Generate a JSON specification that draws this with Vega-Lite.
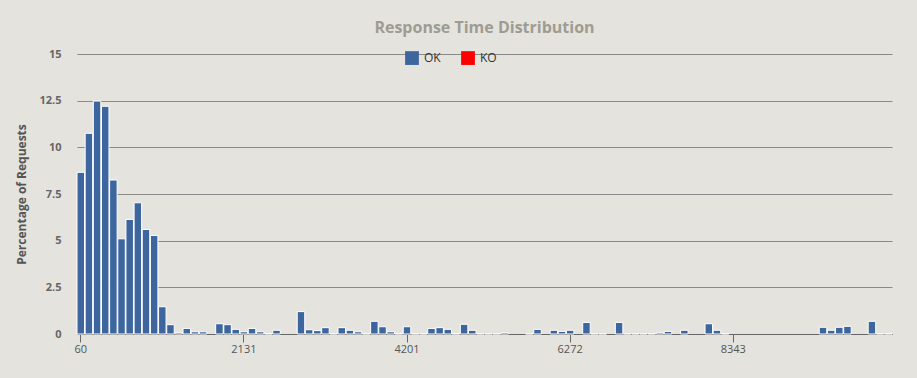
{
  "$schema": "https://vega.github.io/schema/vega-lite/v6.json",
  "width": 815,
  "height": 280,
  "autosize": {"type": "none"},
  "padding": {"left": 77, "top": 54, "right": 25, "bottom": 44},
  "background": "#E4E3DE",
  "title": {
    "text": "Response Time Distribution",
    "font": "Open Sans",
    "fontSize": 16,
    "fontWeight": "bold",
    "color": "#9E9C92",
    "anchor": "middle",
    "offset": 12
  },
  "data": {
    "values": [
      {"ms": 60, "pct": 8.66, "status": "OK"},
      {"ms": 164, "pct": 10.75, "status": "OK"},
      {"ms": 267, "pct": 12.48, "status": "OK"},
      {"ms": 371, "pct": 12.2, "status": "OK"},
      {"ms": 474, "pct": 8.25, "status": "OK"},
      {"ms": 578, "pct": 5.1, "status": "OK"},
      {"ms": 681, "pct": 6.14, "status": "OK"},
      {"ms": 785, "pct": 7.03, "status": "OK"},
      {"ms": 888, "pct": 5.6, "status": "OK"},
      {"ms": 992, "pct": 5.28, "status": "OK"},
      {"ms": 1095, "pct": 1.46, "status": "OK"},
      {"ms": 1199, "pct": 0.5, "status": "OK"},
      {"ms": 1302, "pct": 0.07, "status": "OK"},
      {"ms": 1406, "pct": 0.3, "status": "OK"},
      {"ms": 1509, "pct": 0.12, "status": "OK"},
      {"ms": 1613, "pct": 0.12, "status": "OK"},
      {"ms": 1717, "pct": 0, "status": "OK"},
      {"ms": 1820, "pct": 0.55, "status": "OK"},
      {"ms": 1924, "pct": 0.5, "status": "OK"},
      {"ms": 2027, "pct": 0.25, "status": "OK"},
      {"ms": 2131, "pct": 0.12, "status": "OK"},
      {"ms": 2234, "pct": 0.3, "status": "OK"},
      {"ms": 2338, "pct": 0.12, "status": "OK"},
      {"ms": 2441, "pct": 0.01, "status": "OK"},
      {"ms": 2545, "pct": 0.2, "status": "OK"},
      {"ms": 2648, "pct": 0, "status": "OK"},
      {"ms": 2752, "pct": 0, "status": "OK"},
      {"ms": 2855, "pct": 1.2, "status": "OK"},
      {"ms": 2959, "pct": 0.23, "status": "OK"},
      {"ms": 3063, "pct": 0.18, "status": "OK"},
      {"ms": 3166, "pct": 0.34, "status": "OK"},
      {"ms": 3270, "pct": 0.01, "status": "OK"},
      {"ms": 3373, "pct": 0.34, "status": "OK"},
      {"ms": 3477, "pct": 0.2, "status": "OK"},
      {"ms": 3580, "pct": 0.12, "status": "OK"},
      {"ms": 3684, "pct": 0.01, "status": "OK"},
      {"ms": 3787, "pct": 0.68, "status": "OK"},
      {"ms": 3891, "pct": 0.39, "status": "OK"},
      {"ms": 3994, "pct": 0.12, "status": "OK"},
      {"ms": 4098, "pct": 0.01, "status": "OK"},
      {"ms": 4201, "pct": 0.39, "status": "OK"},
      {"ms": 4305, "pct": 0.01, "status": "OK"},
      {"ms": 4408, "pct": 0.01, "status": "OK"},
      {"ms": 4512, "pct": 0.3, "status": "OK"},
      {"ms": 4616, "pct": 0.34, "status": "OK"},
      {"ms": 4719, "pct": 0.25, "status": "OK"},
      {"ms": 4823, "pct": 0.01, "status": "OK"},
      {"ms": 4926, "pct": 0.52, "status": "OK"},
      {"ms": 5030, "pct": 0.2, "status": "OK"},
      {"ms": 5133, "pct": 0.01, "status": "OK"},
      {"ms": 5237, "pct": 0.01, "status": "OK"},
      {"ms": 5340, "pct": 0.01, "status": "OK"},
      {"ms": 5444, "pct": 0.07, "status": "OK"},
      {"ms": 5547, "pct": 0, "status": "OK"},
      {"ms": 5651, "pct": 0, "status": "OK"},
      {"ms": 5754, "pct": 0.01, "status": "OK"},
      {"ms": 5858, "pct": 0.25, "status": "OK"},
      {"ms": 5961, "pct": 0, "status": "OK"},
      {"ms": 6065, "pct": 0.2, "status": "OK"},
      {"ms": 6169, "pct": 0.14, "status": "OK"},
      {"ms": 6272, "pct": 0.2, "status": "OK"},
      {"ms": 6376, "pct": 0, "status": "OK"},
      {"ms": 6479, "pct": 0.62, "status": "OK"},
      {"ms": 6583, "pct": 0.01, "status": "OK"},
      {"ms": 6686, "pct": 0.01, "status": "OK"},
      {"ms": 6790, "pct": 0, "status": "OK"},
      {"ms": 6893, "pct": 0.62, "status": "OK"},
      {"ms": 6997, "pct": 0.01, "status": "OK"},
      {"ms": 7100, "pct": 0.01, "status": "OK"},
      {"ms": 7204, "pct": 0.01, "status": "OK"},
      {"ms": 7307, "pct": 0.01, "status": "OK"},
      {"ms": 7411, "pct": 0.07, "status": "OK"},
      {"ms": 7515, "pct": 0.14, "status": "OK"},
      {"ms": 7618, "pct": 0, "status": "OK"},
      {"ms": 7722, "pct": 0.2, "status": "OK"},
      {"ms": 7825, "pct": 0, "status": "OK"},
      {"ms": 7929, "pct": 0, "status": "OK"},
      {"ms": 8032, "pct": 0.55, "status": "OK"},
      {"ms": 8136, "pct": 0.2, "status": "OK"},
      {"ms": 8239, "pct": 0.01, "status": "OK"},
      {"ms": 8343, "pct": 0, "status": "OK"},
      {"ms": 8446, "pct": 0, "status": "OK"},
      {"ms": 8550, "pct": 0, "status": "OK"},
      {"ms": 8653, "pct": 0, "status": "OK"},
      {"ms": 8757, "pct": 0, "status": "OK"},
      {"ms": 8860, "pct": 0, "status": "OK"},
      {"ms": 8964, "pct": 0, "status": "OK"},
      {"ms": 9068, "pct": 0, "status": "OK"},
      {"ms": 9171, "pct": 0, "status": "OK"},
      {"ms": 9275, "pct": 0, "status": "OK"},
      {"ms": 9378, "pct": 0, "status": "OK"},
      {"ms": 9482, "pct": 0.36, "status": "OK"},
      {"ms": 9585, "pct": 0.2, "status": "OK"},
      {"ms": 9689, "pct": 0.36, "status": "OK"},
      {"ms": 9792, "pct": 0.41, "status": "OK"},
      {"ms": 9896, "pct": 0, "status": "OK"},
      {"ms": 9999, "pct": 0, "status": "OK"},
      {"ms": 10103, "pct": 0.68, "status": "OK"},
      {"ms": 10206, "pct": 0.01, "status": "OK"},
      {"ms": 10310, "pct": 0.01, "status": "OK"}
    ]
  },
  "mark": {"type": "bar", "stroke": "#FFFFFF", "strokeWidth": 1},
  "encoding": {
    "x": {
      "field": "ms",
      "type": "ordinal",
      "sort": "ascending",
      "scale": {"paddingInner": 0.08, "paddingOuter": 0},
      "axis": {
        "title": null,
        "values": [60, 2131, 4201, 6272, 8343],
        "labelAngle": 0,
        "labelFont": "Open Sans",
        "labelFontSize": 11,
        "labelColor": "#555555",
        "tickSize": 8,
        "tickColor": "#666666",
        "domainColor": "#666666",
        "labelPadding": 1
      }
    },
    "y": {
      "field": "pct",
      "type": "quantitative",
      "scale": {"domain": [0, 15], "nice": false},
      "axis": {
        "title": "Percentage of Requests",
        "titleFont": "Open Sans",
        "titleFontSize": 12,
        "titleFontWeight": "bold",
        "titleColor": "#555555",
        "titlePadding": 10,
        "values": [0, 2.5, 5, 7.5, 10, 12.5, 15],
        "labelExpr": "datum.value + ''",
        "labelFont": "Open Sans",
        "labelFontSize": 11,
        "labelFontWeight": "bold",
        "labelColor": "#666666",
        "labelPadding": 16,
        "ticks": false,
        "domain": false,
        "grid": true,
        "gridColor": "#8A8A8A",
        "gridOpacity": 1
      }
    },
    "strokeOpacity": {
      "condition": {"test": "datum.pct > 0", "value": 1},
      "value": 0
    },
    "color": {
      "field": "status",
      "type": "nominal",
      "scale": {"domain": ["OK", "KO"], "range": ["#3D669F", "#FF0000"]},
      "legend": {
        "title": null,
        "orient": "none",
        "legendX": 328,
        "legendY": -3,
        "direction": "horizontal",
        "symbolType": "square",
        "symbolSize": 190,
        "symbolStrokeWidth": 0,
        "symbolOpacity": 1,
        "labelFont": "Open Sans",
        "labelFontSize": 12,
        "labelColor": "#333333",
        "columnPadding": 20,
        "labelOffset": 5
      }
    }
  },
  "config": {
    "view": {"stroke": null}
  }
}
